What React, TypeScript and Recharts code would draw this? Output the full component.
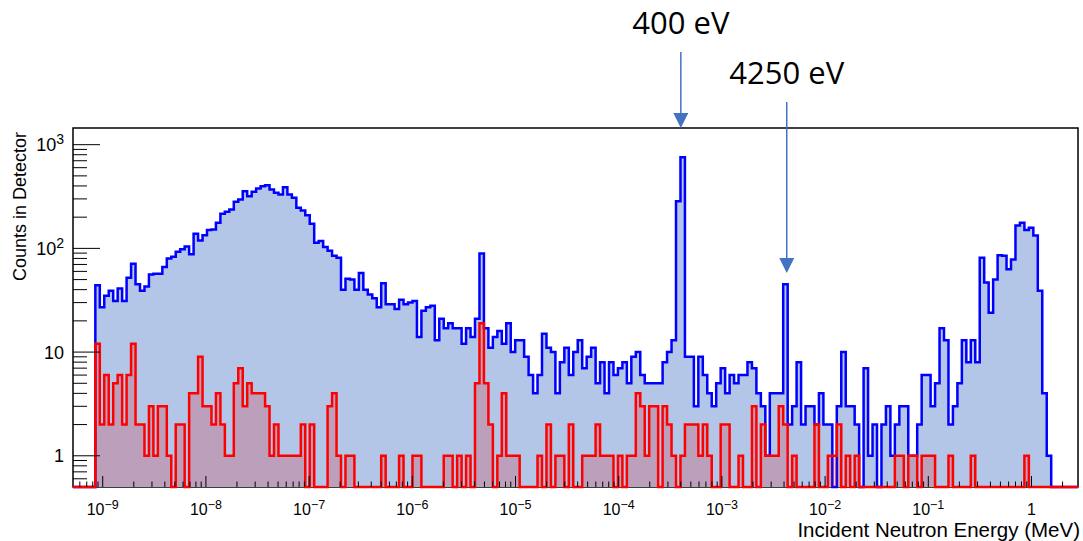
import { ComposedChart, Area, XAxis, YAxis, ReferenceArea, ReferenceDot } from "recharts";

// Log-spaced energy binning (MeV) over the full frame range
const LOG_E_MIN = -9.288;
const LOG_E_MAX = 0.4506;
const N_BINS = 225;
const Y_MIN = 0.5;
const Y_MAX = 1448;

// counts per bin, all neutrons (blue)
const BLUE_COUNTS = [
  0, 0, 0, 0, 0,
  44, 27, 35, 39, 31, 41, 31, 52, 71, 45,
  39, 43, 56, 57, 57, 66, 80, 83, 93, 98,
  104, 88, 138, 119, 134, 150, 152, 177, 216, 225,
  237, 281, 296, 356, 318, 351, 378, 397, 406, 369,
  343, 330, 389, 330, 307, 246, 232, 209, 173, 113,
  118, 103, 95, 85, 81, 40, 51, 50, 40, 58,
  40, 36, 33, 27, 46, 29, 29, 26, 32, 29,
  30, 31, 14, 25, 27, 28, 13, 21, 17, 19,
  17, 17, 12, 17, 14, 21, 89, 17, 11, 14,
  16, 12, 19, 10, 13, 13, 9, 6, 4, 6,
  15, 11, 10, 4, 8, 11, 6, 10, 13, 7,
  9, 11, 5, 8, 4, 8, 6, 7, 8, 5,
  9, 10, 6, 5, 5, 5, 5, 8, 10, 13,
  285, 755, 9, 9, 3, 9, 6, 4, 3, 5,
  7, 4, 6, 5, 6, 6, 8, 7, 4, 3,
  1, 4, 4, 4, 45, 2, 3, 8, 2, 3,
  3, 2, 4, 2, 2, 0, 3, 10, 3, 3,
  2, 0, 7, 1, 2, 0, 2, 3, 1, 2,
  3, 3, 1, 1, 2, 6, 6, 3, 5, 17,
  13, 2, 3, 5, 13, 8, 13, 8, 81, 47,
  24, 50, 86, 85, 63, 78, 166, 177, 150, 158,
  133, 39, 4, 1, 0, 0, 0, 0, 0, 0,
];

// counts per bin, selected subset (red)
const RED_COUNTS = [
  0, 0, 0, 0, 0,
  12, 2, 6, 2, 5, 6, 2, 6, 12, 2,
  2, 1, 3, 1, 3, 3, 1, 0, 2, 2,
  0, 4, 4, 9, 3, 3, 2, 4, 2, 1,
  1, 5, 7, 3, 5, 4, 4, 4, 3, 1,
  2, 1, 1, 1, 1, 1, 2, 0, 2, 0,
  0, 0, 3, 4, 1, 0, 1, 1, 0, 0,
  0, 0, 0, 0, 1, 0, 0, 0, 1, 0,
  0, 1, 1, 0, 0, 0, 0, 0, 1, 1,
  0, 1, 0, 1, 0, 5, 19, 5, 2, 0,
  1, 4, 1, 1, 1, 0, 0, 0, 0, 1,
  0, 2, 0, 1, 1, 0, 2, 0, 0, 1,
  1, 1, 2, 1, 1, 1, 0, 1, 0, 1,
  1, 4, 3, 1, 3, 3, 0, 3, 2, 1,
  0, 1, 2, 2, 2, 1, 2, 1, 0, 0,
  2, 2, 0, 0, 1, 0, 0, 3, 0, 2,
  1, 1, 1, 3, 2, 0, 1, 0, 0, 0,
  0, 2, 0, 0, 1, 1, 2, 0, 1, 0,
  1, 0, 0, 0, 0, 0, 0, 0, 0, 1,
  1, 0, 1, 1, 0, 1, 1, 1, 0, 0,
  0, 1, 0, 0, 0, 0, 1, 0, 0, 0,
  0, 0, 0, 0, 0, 0, 0, 0, 1, 0,
  0, 0, 0, 0, 0, 0, 0, 0, 0, 0,
];

// resonance annotations
const PEAK_LABELS = ["400 eV", "4250 eV"];
const PEAK_ENERGIES = [4e-4, 4.25e-3]; // MeV
const PEAK_ARROW_TIPS = [1448, 58]; // counts

const ARROW_LENGTHS = [76, 171];

const X_MIN = Math.pow(10, LOG_E_MIN);
const X_MAX = Math.pow(10, LOG_E_MAX);

const binEdge = (k: number) => Math.pow(10, LOG_E_MIN + (k * (LOG_E_MAX - LOG_E_MIN)) / N_BINS);
// empty bins sit on the bottom of the log axis
const onAxis = (c: number) => (c > 0 ? c : Y_MIN);

const histData = Array.from({ length: N_BINS + 1 }, (_, k) => {
  const i = Math.min(k, N_BINS - 1);
  return { e: binEdge(k), blue: onAxis(BLUE_COUNTS[i]), red: onAxis(RED_COUNTS[i]) };
});

function logTicks(min: number, max: number) {
  const out: number[] = [];
  for (let p = Math.floor(Math.log10(min)); p <= Math.ceil(Math.log10(max)); p++) {
    for (let m = 1; m <= 9; m++) {
      const v = m * Math.pow(10, p);
      if (v > min * 1.0001 && v < max * 0.9999) out.push(v);
    }
  }
  return out;
}

const X_TICKS = logTicks(X_MIN, X_MAX);
const Y_TICKS = logTicks(Y_MIN, Y_MAX);

const decade = (v: number) => {
  const l = Math.log10(v);
  return Math.abs(l - Math.round(l)) < 1e-6 ? Math.round(l) : null;
};

const FONT = "'Liberation Sans', Arial, Helvetica, sans-serif";

function PowerLabel({ x, y, p, anchor, size }: { x: number; y: number; p: number; anchor: string; size: number }) {
  if (p === 0 || p === 1) {
    return (
      <text x={x} y={y} textAnchor={anchor} fontFamily={FONT} fontSize={size} fill="#000">
        {p === 0 ? "1" : "10"}
      </text>
    );
  }
  return (
    <text x={x} y={y} textAnchor={anchor} fontFamily={FONT} fontSize={size} fill="#000">
      <tspan>10</tspan>
      <tspan dy={-size * 0.4} fontSize={size * 0.78}>
        {p < 0 ? "\u2212" + -p : String(p)}
      </tspan>
    </text>
  );
}

function XTick(props: any) {
  const { x, y, payload } = props;
  const p = decade(payload.value);
  return (
    <g>
      <line x1={x} x2={x} y1={y} y2={y - (p !== null ? 11 : 5.5)} stroke="#000" strokeWidth={1} />
      {p !== null && <PowerLabel x={x} y={y + 28} p={p} anchor="middle" size={16} />}
    </g>
  );
}

function YTick(props: any) {
  const { x, y, payload } = props;
  const p = decade(payload.value);
  return (
    <g>
      <line x1={x} x2={x + (p !== null ? 27 : 14)} y1={y} y2={y} stroke="#000" strokeWidth={1} />
      {p !== null && <PowerLabel x={x - 9} y={y + 6.5} p={p} anchor="end" size={18} />}
    </g>
  );
}

function PeakArrow({ cx, cy, length, label }: { cx: number; cy: number; length: number; label: string }) {
  const head = 15;
  return (
    <g>
      <line x1={cx} x2={cx} y1={cy - length} y2={cy - head + 1} stroke="#4472c4" strokeWidth={1.5} />
      <polygon points={`${cx - 7.5},${cy - head} ${cx + 7.5},${cy - head} ${cx},${cy}`} fill="#4472c4" />
      <text x={cx} y={cy - length - 18} textAnchor="middle" fontFamily="'Open Sans', Lato, sans-serif" fontSize={31} fill="#000">
        {label}
      </text>
    </g>
  );
}

export default function App() {
  return (
    <div style={{ position: "absolute", left: 0, top: 0, width: 1083, height: 541, background: "#fff" }}>
      <ComposedChart width={1083} height={541} data={histData} margin={{ top: 128, right: 5, bottom: 0, left: 0 }}>
        <ReferenceArea x1={X_MIN} x2={X_MAX} y1={Y_MIN} y2={Y_MAX} fill="none" stroke="#000" strokeWidth={1.5} ifOverflow="visible" />
        <Area
          type="stepAfter"
          dataKey="blue"
          baseValue={Y_MIN}
          stroke="#0000ff"
          strokeWidth={2.5}
          fill="#b4c6e7"
          fillOpacity={1}
          dot={false}
          activeDot={false}
          isAnimationActive={false}
        />
        <Area
          type="stepAfter"
          dataKey="red"
          baseValue={Y_MIN}
          stroke="#ff0000"
          strokeWidth={2.5}
          fill="#de0000"
          fillOpacity={0.19}
          dot={false}
          activeDot={false}
          isAnimationActive={false}
        />
        <XAxis
          dataKey="e"
          type="number"
          scale="log"
          domain={[X_MIN, X_MAX]}
          ticks={X_TICKS}
          interval={0}
          height={54}
          axisLine={false}
          tickLine={false}
          tickSize={0}
          tickMargin={0}
          tick={(p: any) => <XTick {...p} />}
        />
        <YAxis
          type="number"
          scale="log"
          domain={[Y_MIN, Y_MAX]}
          ticks={Y_TICKS}
          interval={0}
          width={73}
          axisLine={false}
          tickLine={false}
          tickSize={0}
          tickMargin={0}
          tick={(p: any) => <YTick {...p} />}
        />
        {PEAK_LABELS.map((label, i) => (
          <ReferenceDot
            key={label}
            x={PEAK_ENERGIES[i]}
            y={PEAK_ARROW_TIPS[i]}
            ifOverflow="visible"
            shape={(p: any) => <PeakArrow cx={p.cx} cy={p.cy} length={ARROW_LENGTHS[i]} label={label} />}
          />
        ))}
      </ComposedChart>
      <svg width={1083} height={541} style={{ position: "absolute", left: 0, top: 0, pointerEvents: "none" }}>
        <text x={1080} y={537} textAnchor="end" fontFamily={FONT} fontSize={20.5} fill="#000">
          Incident Neutron Energy (MeV)
        </text>
        <text transform="translate(26,132) rotate(-90)" textAnchor="end" fontFamily={FONT} fontSize={18} fill="#000">
          Counts in Detector
        </text>
      </svg>
    </div>
  );
}
